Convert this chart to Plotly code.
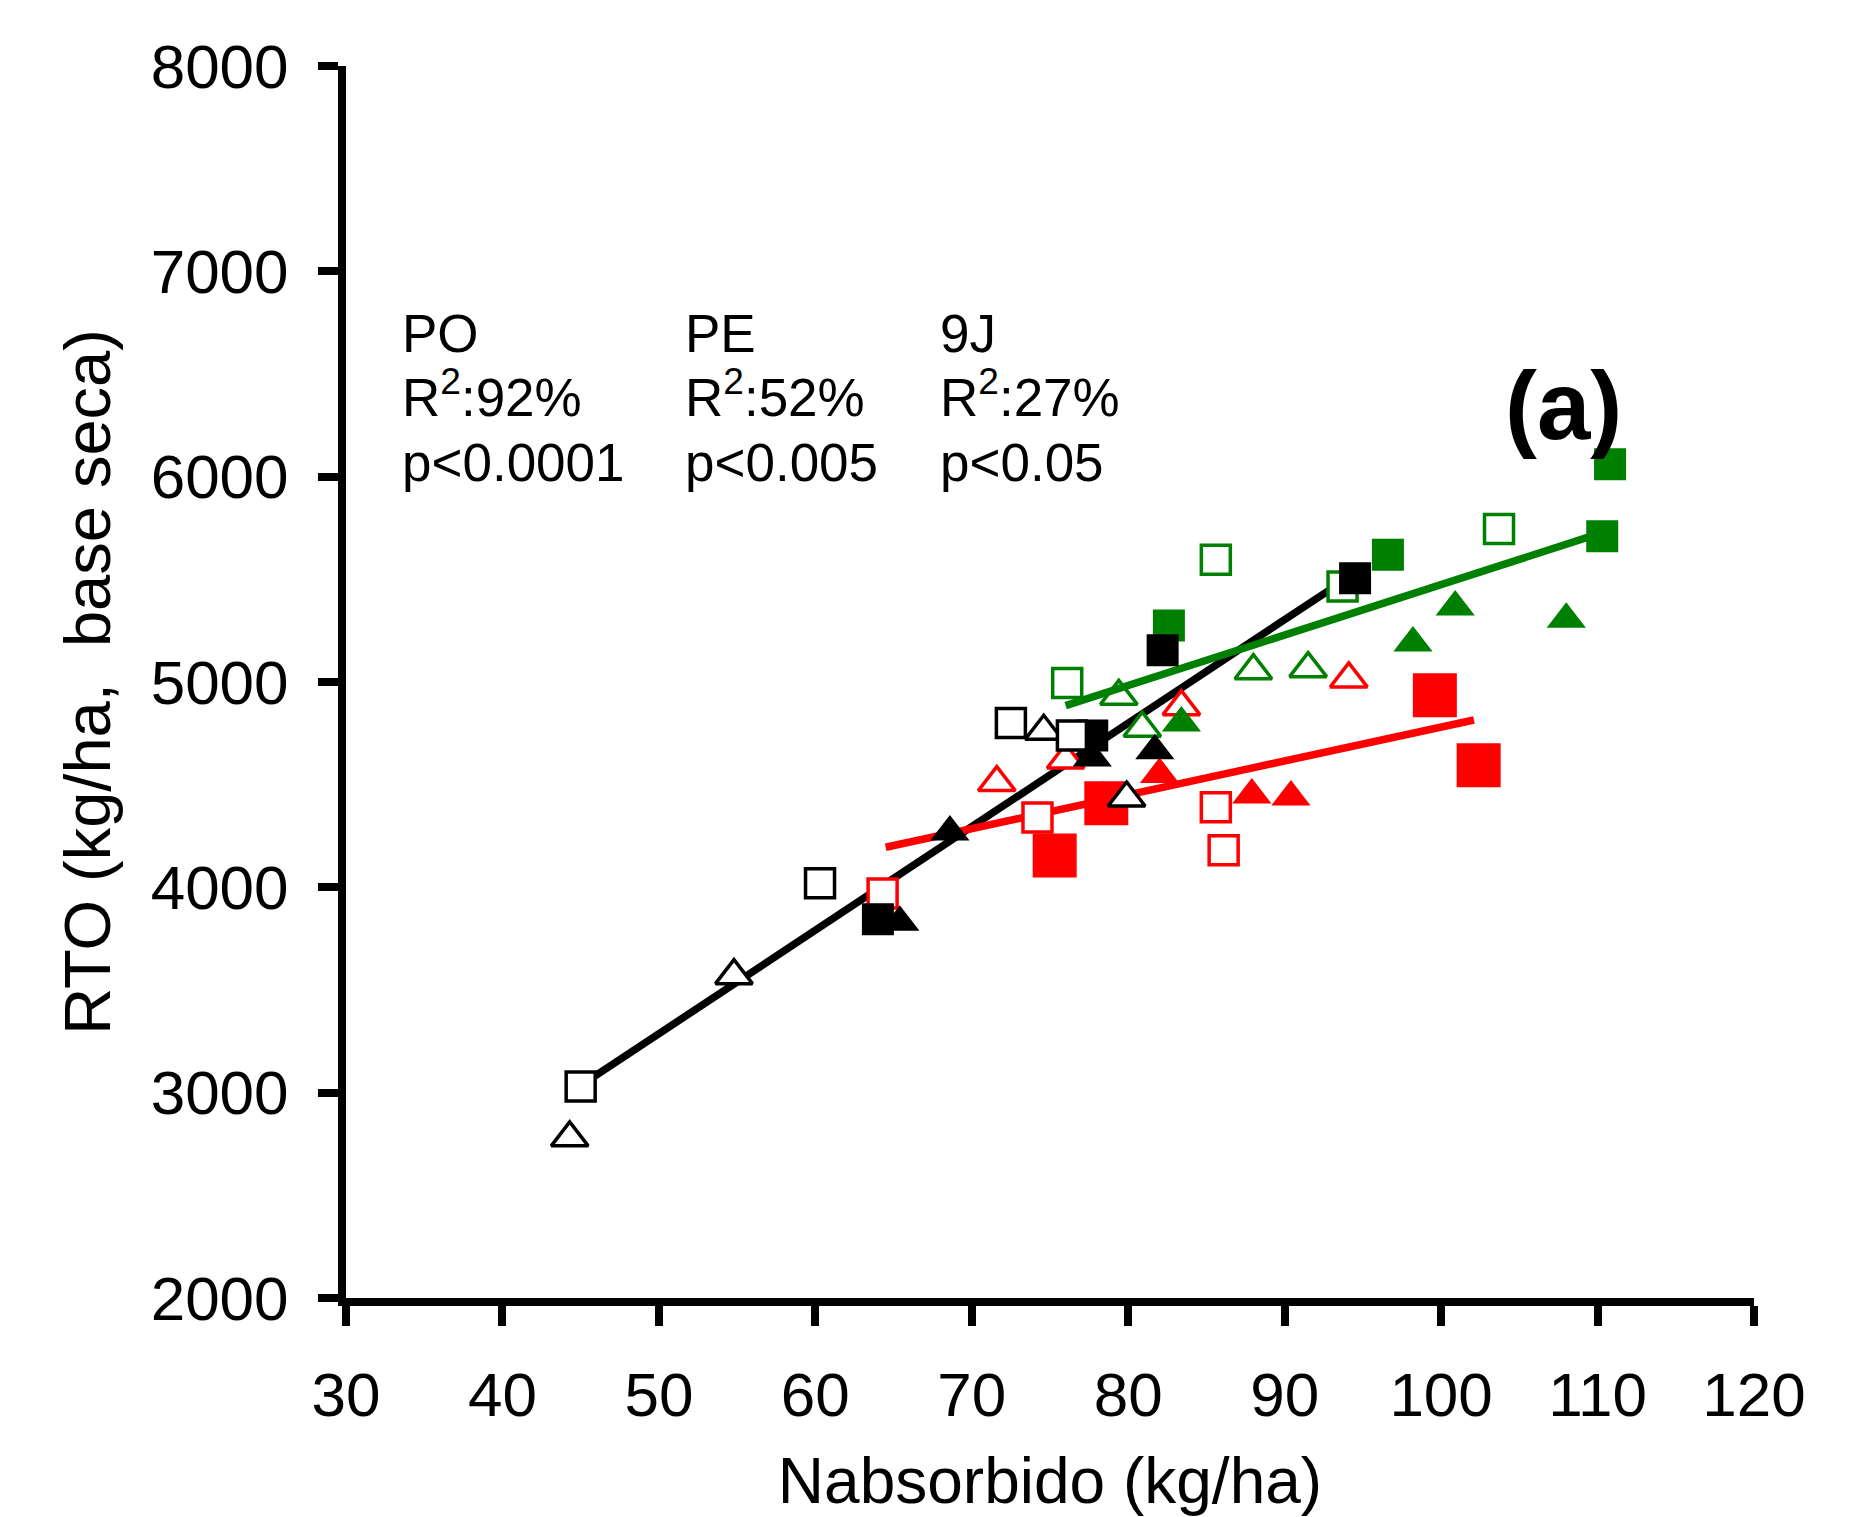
import plotly.graph_objects as go

# ---------------- data ----------------
# PO (black)
po_fill_tri_x = [65.4, 68.6, 77.7, 81.7]
po_fill_tri_y = [3830, 4270, 4630, 4665]
po_fill_sq_x = [64.0, 77.7, 82.2, 94.5]
po_fill_sq_y = [3845, 4740, 5155, 5505]
po_open_tri_x = [44.3, 54.8, 74.6, 79.9]
po_open_tri_y = [2780, 3570, 4760, 4435]
po_open_sq_x = [45.0, 60.3, 72.5, 76.4]
po_open_sq_y = [3030, 4020, 4800, 4740]
po_line_x = [45.2, 93.2]
po_line_y = [3045, 5465]

# PE (red)
pe_fill_tri_x = [78.4, 82.0, 87.9, 90.4]
pe_fill_tri_y = [4435, 4550, 4450, 4440]
pe_fill_sq_x = [75.3, 78.6, 99.6, 102.4]
pe_fill_sq_y = [4155, 4410, 4935, 4595]
pe_open_tri_x = [71.6, 76.0, 83.4, 94.1]
pe_open_tri_y = [4510, 4620, 4880, 5015]
pe_open_sq_x = [64.3, 74.2, 85.6, 86.1]
pe_open_sq_y = [3970, 4340, 4390, 4180]
pe_line_x = [64.5, 102.1]
pe_line_y = [4195, 4815]

# 9J (green)
j9_fill_tri_x = [83.4, 98.2, 100.9, 108.0]
j9_fill_tri_y = [4800, 5190, 5365, 5305]
j9_fill_sq_x = [82.6, 96.6, 110.3, 110.8]
j9_fill_sq_y = [5275, 5620, 5710, 6060]
j9_open_tri_x = [79.4, 80.9, 88.0, 91.5]
j9_open_tri_y = [4930, 4775, 5055, 5065]
j9_open_sq_x = [76.1, 85.6, 93.7, 103.7]
j9_open_sq_y = [4995, 5595, 5465, 5745]
j9_line_x = [76.0, 110.2]
j9_line_y = [4885, 5725]

x_ticks = [30, 40, 50, 60, 70, 80, 90, 100, 110, 120]
y_ticks = [2000, 3000, 4000, 5000, 6000, 7000, 8000]

stats_sites = ["PO", "PE", "9J"]
stats_r2 = ["R<sup>2</sup>:92%", "R<sup>2</sup>:52%", "R<sup>2</sup>:27%"]
stats_p = ["p&lt;0.0001", "p&lt;0.005", "p&lt;0.05"]

BLACK = "#000000"
RED = "#FF0000"
GREEN = "#008000"
FONT = "Liberation Sans, Arial, sans-serif"

fig = go.Figure()


def add_line(xs, ys, color, width):
    fig.add_trace(go.Scatter(x=xs, y=ys, mode="lines",
                             line=dict(color=color, width=width),
                             showlegend=False, hoverinfo="skip"))


def add_markers(color, ftx, fty, fsx, fsy, otx, oty, osx, osy, fsq_size=32):
    fig.add_trace(go.Scatter(x=ftx, y=fty, mode="markers", showlegend=False,
                             marker=dict(symbol="triangle-up", size=34, color=color,
                                         line=dict(width=0))))
    fig.add_trace(go.Scatter(x=fsx, y=fsy, mode="markers", showlegend=False,
                             marker=dict(symbol="square", size=fsq_size, color=color,
                                         line=dict(width=0))))
    fig.add_trace(go.Scatter(x=otx, y=oty, mode="markers", showlegend=False,
                             marker=dict(symbol="triangle-up", size=32, color="white",
                                         line=dict(width=3.5, color=color))))
    fig.add_trace(go.Scatter(x=osx, y=osy, mode="markers", showlegend=False,
                             marker=dict(symbol="square", size=29, color="white",
                                         line=dict(width=3.5, color=color))))


add_line(po_line_x, po_line_y, BLACK, 7.5)
add_line(pe_line_x, pe_line_y, RED, 7.5)
add_markers(RED, pe_fill_tri_x, pe_fill_tri_y, pe_fill_sq_x, pe_fill_sq_y,
            pe_open_tri_x, pe_open_tri_y, pe_open_sq_x, pe_open_sq_y, fsq_size=44)
add_markers(GREEN, j9_fill_tri_x, j9_fill_tri_y, j9_fill_sq_x, j9_fill_sq_y,
            j9_open_tri_x, j9_open_tri_y, j9_open_sq_x, j9_open_sq_y)
add_line(j9_line_x, j9_line_y, GREEN, 7.5)
add_markers(BLACK, po_fill_tri_x, po_fill_tri_y, po_fill_sq_x, po_fill_sq_y,
            po_open_tri_x, po_open_tri_y, po_open_sq_x, po_open_sq_y)

# statistics text blocks (one annotation per line to match line spacing)
stat_x = [0.0387, 0.2390, 0.4201]
line_y = [0.7825, 0.7340, 0.6778]
for i in range(3):
    for j, txt in enumerate([stats_sites[i], stats_r2[i], stats_p[i]]):
        fig.add_annotation(
            xref="paper", yref="paper", x=stat_x[i], y=line_y[j],
            xanchor="left", yanchor="middle", align="left", showarrow=False,
            text=txt, font=dict(family=FONT, size=53, color=BLACK))

fig.add_annotation(xref="paper", yref="paper", x=0.865, y=0.7248,
                   xanchor="center", yanchor="middle", showarrow=False,
                   text="<b>(a)</b>", font=dict(family=FONT, size=96, color=BLACK))

axis_common = dict(showgrid=False, zeroline=False, showline=True, linecolor=BLACK,
                   linewidth=8, ticks="outside", ticklen=20, tickwidth=8,
                   tickcolor=BLACK, automargin=False,
                   tickfont=dict(family=FONT, size=62, color=BLACK))

fig.update_layout(
    width=1851, height=1517,
    margin=dict(l=346, r=97, t=66, b=219),
    paper_bgcolor="white", plot_bgcolor="white",
    xaxis=dict(range=[30, 120], tickvals=x_ticks, ticklabelstandoff=16,
               title=dict(text="Nabsorbido (kg/ha)", standoff=40,
                          font=dict(family=FONT, size=64, color=BLACK)),
               **axis_common),
    yaxis=dict(range=[2000, 8000], tickvals=y_ticks, ticklabelstandoff=17,
               title=dict(text="RTO (kg/ha,  base seca)", standoff=22,
                          font=dict(family=FONT, size=65, color=BLACK)),
               **axis_common),
)

fig.write_html("out.html")
